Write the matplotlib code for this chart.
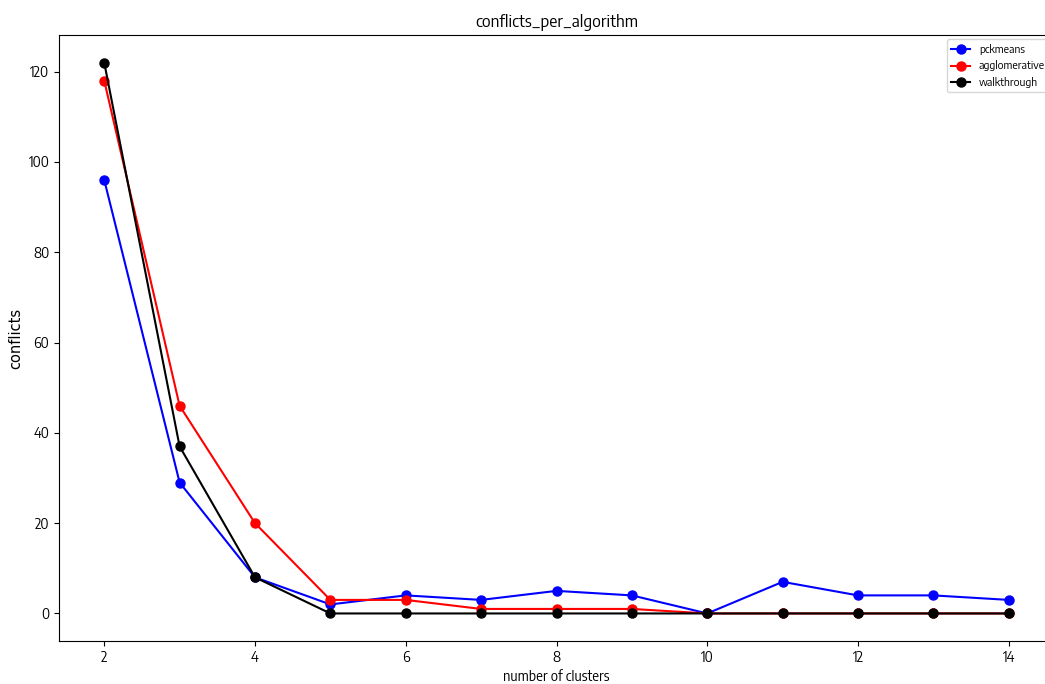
import matplotlib
matplotlib.use("Agg")
import matplotlib.pyplot as plt

# narrow face for the labels, DejaVu as fallback
plt.rcParams['font.family'] = ['Encode Sans Semi Condensed', 'DejaVu Sans']

clusters = [2, 3, 4, 5, 6, 7, 8, 9, 10, 11, 12, 13, 14]
pckmeans = [96, 29, 8, 2, 4, 3, 5, 4, 0, 7, 4, 4, 3]
agglomerative = [118, 46, 20, 3, 3, 1, 1, 1, 0, 0, 0, 0, 0]
walkthrough = [122, 37, 8, 0, 0, 0, 0, 0, 0, 0, 0, 0, 0]

fig = plt.figure(figsize=(10.45, 6.84), dpi=100)
# axes runs a little past the right edge of the canvas
ax = fig.add_axes([59/1045, 43/684, 995/1045, 606/684])

ax.plot(clusters, pckmeans, 'o-', color='blue', label='pckmeans', lw=1.5, ms=6.5)
ax.plot(clusters, agglomerative, 'o-', color='red', label='agglomerative', lw=1.5, ms=6.5)
ax.plot(clusters, walkthrough, 'o-', color='black', label='walkthrough', lw=1.5, ms=6.5)

ax.set_title("conflicts_per_algorithm", fontsize=12)
ax.set_xlabel("number of clusters", fontsize=10)
ax.set_ylabel("conflicts", fontsize=10.5, family='DejaVu Sans')
ax.tick_params(labelsize=10)
ax.legend(loc='upper right', fontsize=8, handlelength=1.7, borderaxespad=0.4)

fig.savefig("out.png", dpi=100)
